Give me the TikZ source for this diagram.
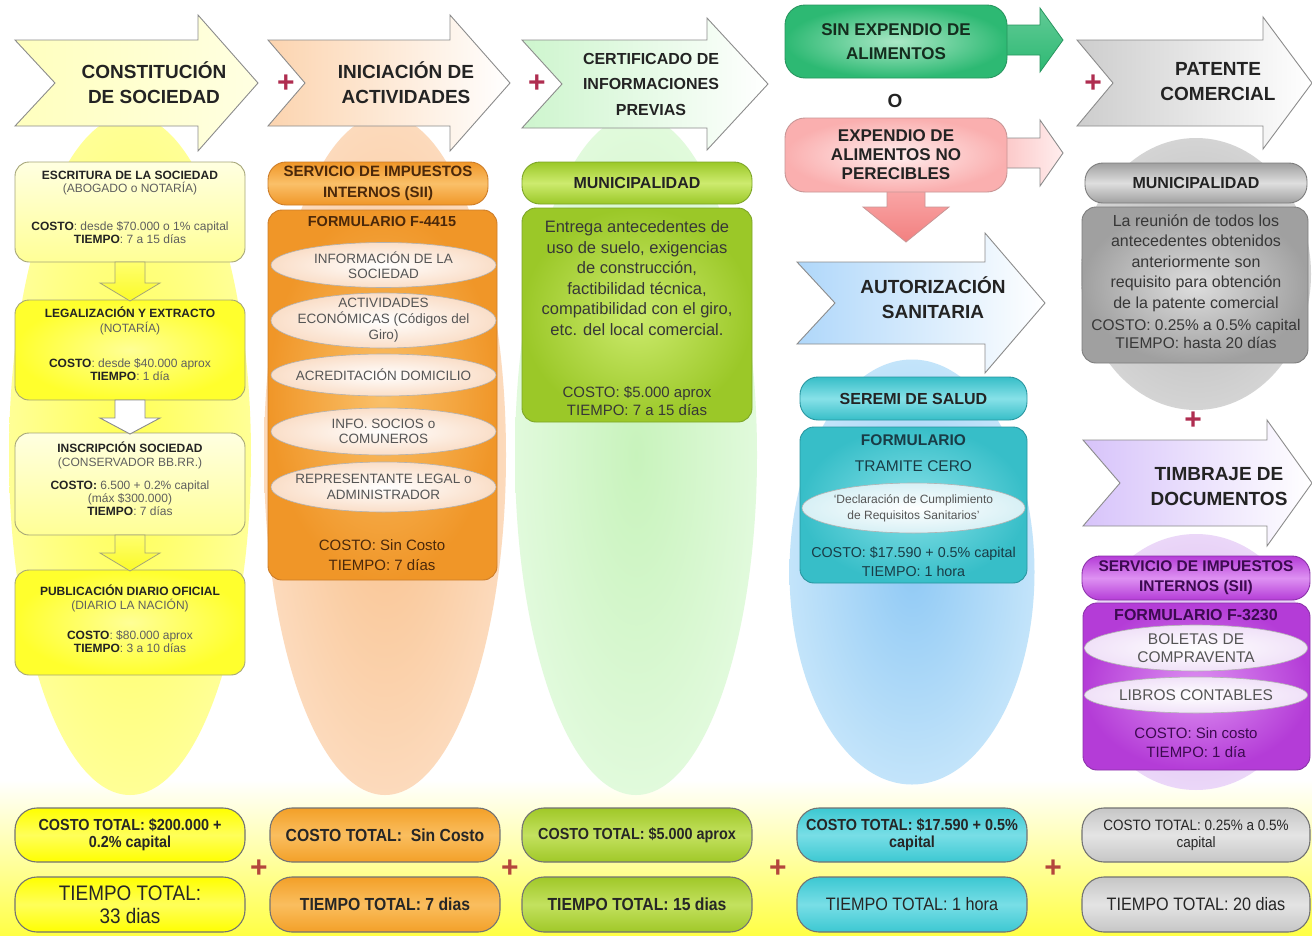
\documentclass[tikz,border=0pt]{standalone}
\usepackage{fontspec}
\setmainfont{Liberation Sans}
\newfontfamily\narrowfont[FakeStretch=0.9]{Liberation Sans}
\usetikzlibrary{shapes.geometric}
\newcommand\fsz[2]{\fontsize{#1}{#2}\selectfont}
% colours
\definecolor{plusred}{RGB}{175,45,80}
\definecolor{plusbot}{RGB}{180,70,60}
\definecolor{txtdark}{RGB}{35,35,35}
\definecolor{txtgray}{RGB}{95,95,95}
\definecolor{ellTxt}{RGB}{85,85,85}
\definecolor{bodyTxt}{RGB}{55,55,55}
\definecolor{bandY}{RGB}{255,255,70}
% col1
\definecolor{yHdr}{RGB}{255,255,190}
\definecolor{yEllIn}{RGB}{255,255,85}
\definecolor{yEllOut}{RGB}{255,255,150}
\definecolor{yBorder}{RGB}{165,165,120}
\definecolor{yBoxT}{RGB}{255,255,225}
\definecolor{yBoxB}{RGB}{255,255,150}
\definecolor{yBrIn}{RGB}{255,255,150}
\definecolor{yBrOut}{RGB}{255,255,45}
\definecolor{yArrT}{RGB}{255,255,110}
\definecolor{yArrB}{RGB}{250,250,40}
\definecolor{yTot}{RGB}{255,255,0}
\definecolor{yTotL}{RGB}{255,255,90}
% col2
\definecolor{oHdr}{RGB}{252,212,175}
\definecolor{oEllIn}{RGB}{248,192,138}
\definecolor{oEllOut}{RGB}{252,218,188}
\definecolor{oDark}{RGB}{240,150,40}
\definecolor{oLight}{RGB}{250,192,105}
\definecolor{oBorder}{RGB}{205,125,40}
\definecolor{oText}{RGB}{75,40,10}
\definecolor{oElOut}{RGB}{250,222,200}
% col3
\definecolor{gHdr}{RGB}{205,245,205}
\definecolor{gEllIn}{RGB}{200,243,188}
\definecolor{gEllOut}{RGB}{225,250,220}
\definecolor{gDark}{RGB}{155,200,40}
\definecolor{gLight}{RGB}{205,235,110}
\definecolor{gBorder}{RGB}{125,165,40}
% col4
\definecolor{sinDark}{RGB}{45,185,115}
\definecolor{sinLight}{RGB}{170,232,198}
\definecolor{sinBorder}{RGB}{40,150,95}
\definecolor{sinTxt}{RGB}{20,45,30}
\definecolor{pinkDark}{RGB}{250,175,175}
\definecolor{pinkLight}{RGB}{255,238,238}
\definecolor{pinkBorder}{RGB}{200,150,150}
\definecolor{pinkArrT}{RGB}{250,170,170}
\definecolor{pinkArrB}{RGB}{242,128,128}
\definecolor{bHdr}{RGB}{175,215,250}
\definecolor{bEllIn}{RGB}{145,202,245}
\definecolor{bEllOut}{RGB}{195,228,250}
\definecolor{cDark}{RGB}{55,190,200}
\definecolor{cLight}{RGB}{135,225,232}
\definecolor{cBorder}{RGB}{40,150,160}
\definecolor{cTxt}{RGB}{25,60,70}
\definecolor{cEllOut}{RGB}{215,240,245}
\definecolor{cTot}{RGB}{60,200,210}
\definecolor{cTotL}{RGB}{120,222,230}
% col5
\definecolor{grHdr}{RGB}{205,205,205}
\definecolor{grEllIn}{RGB}{185,185,185}
\definecolor{grEllOut}{RGB}{212,212,212}
\definecolor{grDark}{RGB}{160,160,160}
\definecolor{grLight}{RGB}{222,222,222}
\definecolor{grBorder}{RGB}{125,125,125}
\definecolor{lavHdr}{RGB}{215,195,250}
\definecolor{pEllIn}{RGB}{215,180,240}
\definecolor{pEllOut}{RGB}{235,215,248}
\definecolor{pDark}{RGB}{180,60,215}
\definecolor{pLight}{RGB}{222,145,242}
\definecolor{pBorder}{RGB}{140,50,170}
\definecolor{pTxt}{RGB}{60,10,80}
\definecolor{pElOut}{RGB}{240,225,248}
\definecolor{grTot}{RGB}{198,198,198}
\definecolor{grTotL}{RGB}{228,228,228}
\definecolor{oTot}{RGB}{243,160,40}
\definecolor{oTotL}{RGB}{250,190,95}
\definecolor{gTot}{RGB}{160,200,40}
\definecolor{gTotL}{RGB}{195,225,95}
% shapes
\newcommand\hdrarrow[8]{\path[#1] (#2,#7) -- (#4,#7) -- (#4,#6) -- (#5,#8) -- (#4,{2*#8-#6}) -- (#4,{2*#8-#7}) -- (#2,{2*#8-#7}) -- (#3,#8) -- cycle;}
\newcommand\rtarrow[7]{\path[#1] (#2,{#5-#6}) -- (#3,{#5-#6}) -- (#3,{#5-#7}) -- (#4,#5) -- (#3,{#5+#7}) -- (#3,{#5+#6}) -- (#2,{#5+#6}) -- cycle;}
\newcommand\dnarrow[7]{\path[#1] ({#2-#6},#3) -- ({#2+#6},#3) -- ({#2+#6},#4) -- ({#2+#7},#4) -- (#2,#5) -- ({#2-#7},#4) -- ({#2-#6},#4) -- cycle;}
\newcommand\bk[1]{\textcolor{txtdark}{\textbf{#1}}}
\tikzset{
 hdrtxt/.style={font=\fsz{19}{25}\bfseries, align=center, text=txtdark, inner sep=0},
 pillbox/.style={rounded corners=18, draw, line width=0.9, inner sep=0, align=center},
 rbox/.style={rounded corners=14, draw, line width=0.9, inner sep=0},
 inell/.style={ellipse, draw=black!30, line width=0.6, inner sep=0, inner color=white, outer color=#1},
 bgell/.style={ellipse, inner sep=0},
 plussign/.style={text=plusred, font=\fsz{30}{30}\bfseries, inner sep=0},
 txt/.style={align=center, inner sep=0},
 arrowline/.style={draw=black!45, line width=0.9},
 totpill/.style={rounded corners=22, draw=black!55, line width=1.1, minimum width=230, inner sep=0, align=center, text=black!85},
}
\begin{document}
\begin{tikzpicture}[x=1pt,y=-1pt]
\useasboundingbox (0,0) rectangle (1312,935);
\fill[white] (0,0) rectangle (1312,935);
\fill[top color=white, bottom color=bandY] (0,780) rectangle (1312,935);

% background ellipses
\node[bgell, inner color=yEllIn, outer color=yEllOut, minimum width=242, minimum height=680] (ell1) at (130,455) {};
\node[bgell, inner color=oEllIn, outer color=oEllOut, minimum width=242, minimum height=680] (ell2) at (385,455) {};
\node[bgell, inner color=gEllIn, outer color=gEllOut, minimum width=242, minimum height=680] (ell3) at (636,455) {};
\node[bgell, inner color=bEllIn, outer color=bEllOut, minimum width=245, minimum height=425] (ell4) at (912,572) {};
\node[bgell, inner color=grEllIn, outer color=grEllOut, minimum width=230, minimum height=272] (ell5) at (1196,274) {};
\node[bgell, inner color=pEllIn, outer color=pEllOut, minimum width=225, minimum height=256] (ell6) at (1196,662) {};

% header arrows
\hdrarrow{arrowline, left color=yHdr, right color=yHdr!45!white}{15}{55}{198}{258}{15}{40}{83}
\hdrarrow{arrowline, left color=oHdr, right color=white}{268}{305}{450}{510}{15}{40}{83}
\hdrarrow{arrowline, left color=gHdr, right color=white}{522}{562}{707}{768}{18}{40}{84}
\hdrarrow{arrowline, left color=grHdr, right color=white}{1077}{1113}{1263}{1312}{17}{40}{83}
\node[hdrtxt] (h1) at (154,83) {CONSTITUCIÓN\\DE SOCIEDAD};
\node[hdrtxt] (h2) at (406,83) {INICIACIÓN DE\\ACTIVIDADES};
\node[hdrtxt, font=\fsz{16}{25.5}\bfseries] (h3) at (651,84) {CERTIFICADO DE\\INFORMACIONES\\PREVIAS};
\node[hdrtxt] (h5) at (1218,82) {PATENTE\\COMERCIAL};
\node[plussign] (pl1) at (286,84) {+};
\node[plussign] (pl2) at (537,84) {+};
\node[plussign] (pl4) at (1093,84) {+};

% ---------- column 1
\node[rbox, draw=yBorder, top color=yBoxT, bottom color=yBoxB, minimum width=230, minimum height=100] (b1) at (130,212) {};
\node[rbox, draw=yBorder, inner color=yBrIn, outer color=yBrOut, minimum width=230, minimum height=100] (b2) at (130,350) {};
\node[rbox, draw=yBorder, top color=yBoxT, bottom color=yBoxB, minimum width=230, minimum height=102] (b3) at (130,484) {};
\node[rbox, draw=yBorder, inner color=yBrIn, outer color=yBrOut, minimum width=230, minimum height=105] (b4) at (130,622.5) {};
\dnarrow{draw=yBorder, line width=0.8, top color=yArrT, bottom color=yArrB}{130}{262}{283}{301}{15}{30}
\dnarrow{arrowline, fill=white}{130}{400}{418}{434}{15}{30}
\dnarrow{draw=yBorder, line width=0.8, top color=yArrT, bottom color=yArrB}{130}{535}{553}{571}{15}{30}
\node[txt, font=\fsz{12}{13}, text=txtgray] (b1a) at (130,183.5) {\bk{ESCRITURA DE LA SOCIEDAD}\\(ABOGADO o NOTARÍA)};
\node[txt, font=\fsz{12}{13}, text=txtgray] (b1b) at (130,233) {\bk{COSTO}: desde \$70.000 o 1\% capital\\\bk{TIEMPO}: 7 a 15 días};
\node[txt, font=\fsz{12}{15}, text=txtgray] (b2a) at (130,320.5) {\bk{LEGALIZACIÓN Y EXTRACTO}\\(NOTARÍA)};
\node[txt, font=\fsz{12}{13}, text=txtgray] (b2b) at (130,369.5) {\bk{COSTO}: desde \$40.000 aprox\\\bk{TIEMPO}: 1 día};
\node[txt, font=\fsz{12}{14}, text=txtgray] (b3a) at (130,455) {\bk{INSCRIPCIÓN SOCIEDAD}\\(CONSERVADOR BB.RR.)};
\node[txt, font=\fsz{12}{13}, text=txtgray] (b3b) at (130,498) {\bk{COSTO:} 6.500 + 0.2\% capital\\(máx \$300.000)\\\bk{TIEMPO}: 7 días};
\node[txt, font=\fsz{12}{13.5}, text=txtgray] (b4a) at (130,598.5) {\bk{PUBLICACIÓN DIARIO OFICIAL}\\(DIARIO LA NACIÓN)};
\node[txt, font=\fsz{12}{13}, text=txtgray] (b4b) at (130,641.5) {\bk{COSTO}: \$80.000 aprox\\\bk{TIEMPO}: 3 a 10 días};

% ---------- column 2
\node[pillbox, draw=oBorder, top color=oDark, bottom color=oDark, middle color=oLight, minimum width=220, minimum height=43, font=\fsz{15}{21}\bfseries, text=oText] (sii1) at (378,183.5) {SERVICIO DE IMPUESTOS\\INTERNOS (SII)};
\node[rbox, draw=oBorder, inner color=oLight, outer color=oDark, minimum width=229, minimum height=370] (f4415) at (382.5,395) {};
\node[txt, font=\fsz{14.5}{16}\bfseries, text=oText] (f4415t) at (382,222) {FORMULARIO F-4415};
\node[inell=oElOut, minimum width=225, minimum height=45] (e1) at (383.5,265) {};
\node[inell=oElOut, minimum width=225, minimum height=55] (e2) at (383.5,320.5) {};
\node[inell=oElOut, minimum width=225, minimum height=42] (e3) at (383.5,375) {};
\node[inell=oElOut, minimum width=225, minimum height=47] (e4) at (383.5,431.5) {};
\node[inell=oElOut, minimum width=225, minimum height=50] (e5) at (383.5,487) {};
\node[txt, font=\fsz{13.5}{15.5}, text=ellTxt] (e1t) at (e1.center) {INFORMACIÓN DE LA\\SOCIEDAD};
\node[txt, font=\fsz{13.5}{16}, text=ellTxt] (e2t) at (e2.center) {ACTIVIDADES\\ECONÓMICAS (Códigos del\\Giro)};
\node[txt, font=\fsz{13.5}{15.5}, text=ellTxt] (e3t) at (e3.center) {ACREDITACIÓN DOMICILIO};
\node[txt, font=\fsz{13.5}{15.5}, text=ellTxt] (e4t) at (e4.center) {INFO. SOCIOS o\\COMUNEROS};
\node[txt, font=\fsz{13.5}{15.5}, text=ellTxt] (e5t) at (e5.center) {REPRESENTANTE LEGAL o\\ADMINISTRADOR};
\node[txt, font=\fsz{15}{20}, text=oText] (f4415c) at (382,555) {COSTO: Sin Costo\\TIEMPO: 7 días};

% ---------- column 3
\node[pillbox, draw=gBorder, top color=gDark, bottom color=gDark, middle color=gLight, minimum width=230, minimum height=42, font=\fsz{16}{16}\bfseries, text=txtdark] (muni1) at (637,183) {MUNICIPALIDAD};
\node[rbox, draw=gBorder, inner color=gLight, outer color=gDark, minimum width=230, minimum height=214] (cert) at (637,315) {};
\node[txt, font=\fsz{16.5}{20.6}, text=bodyTxt] (certt) at (637,278) {Entrega antecedentes de\\uso de suelo, exigencias\\de construcción,\\factibilidad técnica,\\compatibilidad con el giro,\\etc. del local comercial.};
\node[txt, font=\fsz{15}{18}, text=bodyTxt] (certc) at (637,401) {COSTO: \$5.000 aprox\\TIEMPO: 7 a 15 días};

% ---------- column 4
\rtarrow{draw=sinBorder, line width=0.8, top color=sinDark!75!white, bottom color=sinDark}{990}{1040}{1063}{40}{15}{32}
\rtarrow{arrowline, left color=pinkDark!80!white, right color=pinkLight}{990}{1040}{1063}{153}{15}{33}
\dnarrow{draw=pinkBorder, line width=0.8, top color=pinkArrT, bottom color=pinkArrB}{906}{185}{207}{242}{19}{43}
\node[pillbox, rounded corners=20, draw=sinBorder, inner color=sinLight, outer color=sinDark, minimum width=222, minimum height=73, font=\fsz{17}{24}\bfseries, text=sinTxt] (sinexp) at (896,41.5) {SIN EXPENDIO DE\\ALIMENTOS};
\node[font=\fsz{19}{19}\bfseries, text=txtdark, inner sep=0] (oword) at (895,101) {O};
\node[pillbox, rounded corners=20, draw=pinkBorder, inner color=pinkLight, outer color=pinkDark, minimum width=222, minimum height=74, font=\fsz{17}{19}\bfseries, text=txtdark] (expnp) at (896,155) {EXPENDIO DE\\ALIMENTOS NO\\PERECIBLES};
\hdrarrow{arrowline, left color=bHdr, right color=white}{797}{835}{985}{1045}{233}{262}{303}
\node[hdrtxt] (h4) at (933,298) {AUTORIZACIÓN\\SANITARIA};
\node[pillbox, draw=cBorder, top color=cDark, bottom color=cDark, middle color=cLight, minimum width=227, minimum height=43, font=\fsz{16}{16}\bfseries, text=txtdark] (seremi) at (913.5,398.5) {SEREMI DE SALUD};
\node[rbox, draw=cBorder, inner color=cLight, outer color=cDark, minimum width=227, minimum height=156] (tram) at (913.5,505) {};
\node[txt, font=\fsz{15.5}{15.5}\bfseries, text=cTxt] (tramf) at (913.5,440) {FORMULARIO};
\node[txt, font=\fsz{15.5}{15.5}, text=cTxt] (tramc) at (913.5,466) {TRAMITE CERO};
\node[inell=cEllOut, minimum width=223, minimum height=50] (decl) at (913.5,508) {};
\node[txt, font=\fsz{12}{16}, text=ellTxt] (declt) at (decl.center) {‘Declaración de Cumplimiento\\de Requisitos Sanitarios’};
\node[txt, font=\fsz{14.3}{19}, text=cTxt] (tramcost) at (913.5,561.5) {COSTO: \$17.590 + 0.5\% capital\\TIEMPO: 1 hora};

% ---------- column 5
\node[pillbox, draw=grBorder, top color=grDark, bottom color=grDark, middle color=grLight, minimum width=222, minimum height=40, font=\fsz{16}{16}\bfseries, text=txtdark] (muni2) at (1196,183) {MUNICIPALIDAD};
\node[rbox, draw=grBorder, inner color=grLight, outer color=grDark, minimum width=226, minimum height=156] (pat) at (1195,285) {};
\node[txt, font=\fsz{16}{20.5}, text=bodyTxt] (patt) at (1196,263) {La reunión de todos los\\antecedentes obtenidos\\anteriormente son\\requisito para obtención\\de la patente comercial};
\node[txt, font=\fsz{15.5}{18}, text=bodyTxt] (patc) at (1196,334) {COSTO: 0.25\% a 0.5\% capital\\TIEMPO: hasta 20 días};
\node[plussign] (pl5) at (1193,421) {+};
\hdrarrow{arrowline, left color=lavHdr, right color=white}{1083}{1120}{1267}{1312}{420}{440}{483}
\node[hdrtxt] (h6) at (1219,487) {TIMBRAJE DE\\DOCUMENTOS};
\node[pillbox, draw=pBorder, top color=pDark, bottom color=pDark, middle color=pLight, minimum width=228, minimum height=44, font=\fsz{15.5}{20}\bfseries, text=pTxt] (sii2) at (1196,578) {SERVICIO DE IMPUESTOS\\INTERNOS (SII)};
\node[rbox, draw=pBorder, inner color=pLight, outer color=pDark, minimum width=227, minimum height=167] (f3230) at (1196.5,686.5) {};
\node[txt, font=\fsz{16}{16}\bfseries, text=pTxt] (f3230t) at (1196,615) {FORMULARIO F-3230};
\node[inell=pElOut, minimum width=223, minimum height=46] (bol) at (1196,648) {};
\node[txt, font=\fsz{15.5}{18}, text=ellTxt] (bolt) at (bol.center) {BOLETAS DE\\COMPRAVENTA};
\node[inell=pElOut, minimum width=223, minimum height=36] (lib) at (1196,695) {};
\node[txt, font=\fsz{15.5}{15.5}, text=ellTxt] (libt) at (lib.center) {LIBROS CONTABLES};
\node[txt, font=\fsz{15}{19}, text=pTxt] (f3230c) at (1196,743) {COSTO: Sin costo\\TIEMPO: 1 día};

% ---------- totals
\node[totpill, top color=yTot, bottom color=yTot, middle color=yTotL, minimum height=54, font=\narrowfont\fsz{16}{17}\bfseries] (ct1) at (130,835) {COSTO TOTAL: \$200.000 +\\0.2\% capital};
\node[totpill, top color=yTot, bottom color=yTot, middle color=yTotL, minimum height=55, font=\narrowfont\fsz{21}{23}] (tt1) at (130,904.5) {TIEMPO TOTAL:\\33 dias};
\node[totpill, top color=oTot, bottom color=oTot, middle color=oTotL, minimum height=54, font=\narrowfont\fsz{17.5}{19}\bfseries] (ct2) at (385,835) {COSTO TOTAL:\ \ Sin Costo};
\node[totpill, top color=oTot, bottom color=oTot, middle color=oTotL, minimum height=55, font=\narrowfont\fsz{17.5}{19}\bfseries] (tt2) at (385,904.5) {TIEMPO TOTAL: 7 dias};
\node[totpill, top color=gTot, bottom color=gTot, middle color=gTotL, minimum height=54, font=\narrowfont\fsz{16}{18}\bfseries] (ct3) at (637,835) {COSTO TOTAL: \$5.000 aprox};
\node[totpill, top color=gTot, bottom color=gTot, middle color=gTotL, minimum height=55, font=\narrowfont\fsz{17.5}{19}\bfseries] (tt3) at (637,904.5) {TIEMPO TOTAL: 15 dias};
\node[totpill, top color=cTot, bottom color=cTot, middle color=cTotL, minimum height=54, font=\narrowfont\fsz{16}{17}\bfseries] (ct4) at (912,835) {COSTO TOTAL: \$17.590 + 0.5\%\\capital};
\node[totpill, top color=cTot, bottom color=cTot, middle color=cTotL, minimum height=55, font=\narrowfont\fsz{18}{19}] (tt4) at (912,904.5) {TIEMPO TOTAL: 1 hora};
\node[totpill, minimum width=228, top color=grTot, bottom color=grTot, middle color=grTotL, minimum height=54, font=\narrowfont\fsz{15}{17}] (ct5) at (1196,835) {COSTO TOTAL: 0.25\% a 0.5\%\\capital};
\node[totpill, minimum width=228, top color=grTot, bottom color=grTot, middle color=grTotL, minimum height=55, font=\narrowfont\fsz{18}{19}] (tt5) at (1196,904.5) {TIEMPO TOTAL: 20 dias};
\node[plussign, text=plusbot] (pb1) at (259,869) {+};
\node[plussign, text=plusbot] (pb2) at (510,869) {+};
\node[plussign, text=plusbot] (pb3) at (778,869) {+};
\node[plussign, text=plusbot] (pb4) at (1053,869) {+};
\end{tikzpicture}
\end{document}
